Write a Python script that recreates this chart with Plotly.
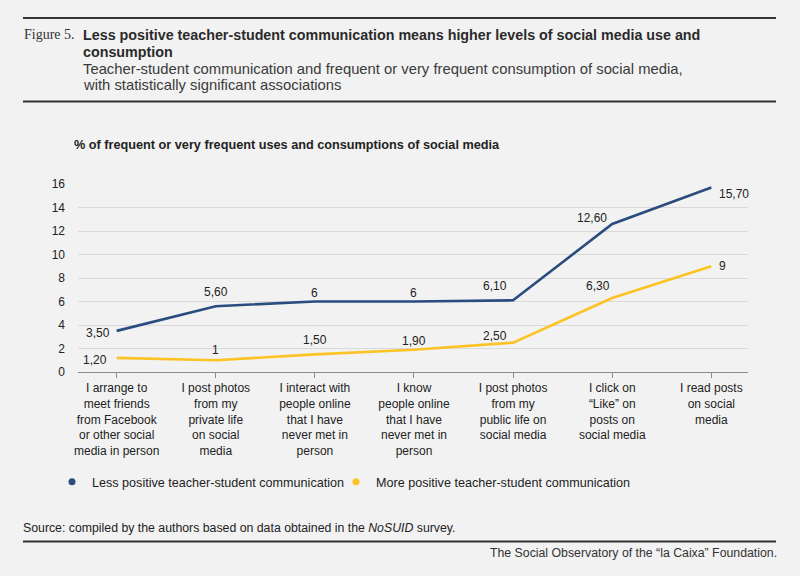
import plotly.graph_objects as go

# ---------------- data ----------------
categories = [
    "I arrange to<br>meet friends<br>from Facebook<br>or other social<br>media in person",
    "I post photos<br>from my<br>private life<br>on social<br>media",
    "I interact with<br>people online<br>that I have<br>never met in<br>person",
    "I know<br>people online<br>that I have<br>never met in<br>person",
    "I post photos<br>from my<br>public life on<br>social media",
    "I click on<br>“Like” on<br>posts on<br>social media",
    "I read posts<br>on social<br>media",
]
less_positive = [3.5, 5.6, 6, 6, 6.1, 12.6, 15.7]
more_positive = [1.2, 1, 1.5, 1.9, 2.5, 6.3, 9]
series_names = ["Less positive teacher-student communication",
                "More positive teacher-student communication"]
y_ticks = [0, 2, 4, 6, 8, 10, 12, 14, 16]

# ---------------- style ----------------
W, H = 800, 576
ML, MR, MT, MB = 78, 52, 184, 204
BLUE = "#2b4c7e"
YELLOW = "#fdc324"
BG = "#f2f2f2"
TXT = "#222222"
FONT = "Liberation Sans, Arial, sans-serif"

# label placement: (xanchor, xshift, yshift)
less_label_pos = [("right", -5, -2), ("center", 0, 14), ("center", 0, 9), ("center", 0, 9),
                  ("center", -18, 14), ("center", -20, 6), ("left", 6, -6)]
more_label_pos = [("right", -8, -2), ("center", 0, 10), ("center", 0, 14), ("center", 0, 9),
                  ("center", -18, 7), ("center", -14, 12), ("left", 6, 0)]


def fmt(v):
    if float(v).is_integer():
        return str(int(v))
    return f"{v:.2f}".replace(".", ",")


def px(x, y):
    """pixel position -> paper coordinates"""
    pw = W - ML - MR
    ph = H - MT - MB
    return (x - ML) / pw, (H - MB - y) / ph


fig = go.Figure()
for vals, col in ((less_positive, BLUE), (more_positive, YELLOW)):
    fig.add_trace(go.Scatter(x=categories, y=vals, mode="lines",
                             line=dict(color=col, width=2.6), showlegend=False,
                             hoverinfo="skip"))
# legend entries (dots), each in its own legend box
for name, col, lg in zip(series_names, (BLUE, YELLOW), ("legend", "legend2")):
    fig.add_trace(go.Scatter(x=[None], y=[None], mode="markers", name=name,
                             marker=dict(color=col, size=7), legend=lg))

annotations = []
for vals, pos in ((less_positive, less_label_pos), (more_positive, more_label_pos)):
    for c, v, (xa, xs, ys) in zip(categories, vals, pos):
        annotations.append(dict(x=c, y=v, xref="x", yref="y", text=fmt(v),
                                showarrow=False, xanchor=xa, yanchor="middle",
                                xshift=xs, yshift=ys,
                                font=dict(family=FONT, size=12, color=TXT)))


def text(x, y, s, size, xanchor="left", family=FONT, color=TXT):
    X, Y = px(x, y)
    annotations.append(dict(x=X, y=Y, xref="paper", yref="paper", text=s,
                            showarrow=False, xanchor=xanchor, yanchor="middle",
                            font=dict(family=family, size=size, color=color)))


text(22, 34.5, "Figure 5.", 14, family="Liberation Serif, serif", color="#333333")
text(81, 34.5, "<b>Less positive teacher-student communication means higher levels of social media use and</b>", 14.3, color="#2a2a2a")
text(81, 52, "<b>consumption</b>", 14.3, color="#2a2a2a")
text(81, 69, "Teacher-student communication and frequent or very frequent consumption of social media,", 14.8, color="#3a3a3a")
text(81, 85.5, "with statistically significant associations", 14.8, color="#3a3a3a")
text(72, 145, "<b>% of frequent or very frequent uses and consumptions of social media</b>", 12.7)
text(21, 528, "Source: compiled by the authors based on data obtained in the <i>NoSUID</i> survey.", 12.3)
text(779, 553, "The Social Observatory of the “la Caixa” Foundation.", 12.3, xanchor="right", color="#333333")

shapes = []
for yy in (18, 101.5, 541.5):
    x0, y0 = px(23, yy)
    x1, _ = px(776, yy)
    shapes.append(dict(type="line", xref="paper", yref="paper", x0=x0, x1=x1,
                       y0=y0, y1=y0, line=dict(color="#333333", width=2.2)))

l1x, ly = px(52, 482)
l2x, _ = px(336, 482)
legend_common = dict(orientation="h", y=ly, xanchor="left", yanchor="middle",
                     font=dict(family=FONT, size=12.6, color=TXT),
                     bgcolor="rgba(0,0,0,0)", itemwidth=30)
fig.update_layout(
    width=W, height=H,
    margin=dict(l=ML, r=MR, t=MT, b=MB),
    paper_bgcolor=BG, plot_bgcolor=BG,
    font=dict(family=FONT, size=12, color=TXT),
    showlegend=True,
    legend=dict(x=l1x, **legend_common),
    legend2=dict(x=l2x, **legend_common),
    annotations=annotations,
    shapes=shapes,
    xaxis=dict(type="category", range=[-0.39, 6.37], showgrid=False,
               showline=True, linecolor="#8c8c8c", linewidth=1,
               ticks="outside", ticklen=5, tickcolor="#8c8c8c", tickwidth=1,
               tickfont=dict(family=FONT, size=12, color=TXT), fixedrange=True),
    yaxis=dict(range=[0, 16], tickvals=y_ticks, showgrid=True, gridcolor="#d9d9d9",
               gridwidth=1, zeroline=False, showline=False, ticks="",
               ticklabelstandoff=12,
               tickfont=dict(family=FONT, size=12, color=TXT), fixedrange=True),
)
fig.write_html("out.html", config={"displayModeBar": False},
               post_script="document.body.style.margin='0';")
